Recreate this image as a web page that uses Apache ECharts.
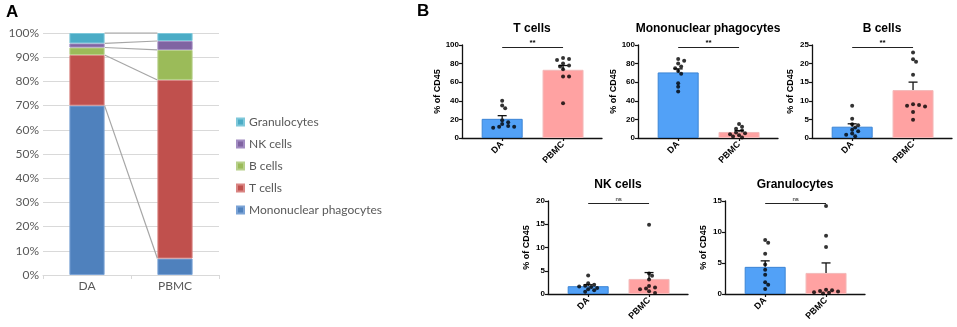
<!DOCTYPE html>
<html>
<head>
<meta charset="utf-8">
<script src="https://cdn.jsdelivr.net/npm/echarts@6/dist/echarts.min.js"></script>
<style>
  html, body { margin: 0; padding: 0; background: #fff; }
  #main { width: 957px; height: 327px; }
</style>
</head>
<body>
<div id="main"></div>
<script>
// ---- data ----
const groups = ['DA', 'PBMC']

// panel A: composition of CD45+ cells (%), bottom to top
const subsetNames = ['Mononuclear phagocytes', 'T cells', 'B cells', 'NK cells', 'Granulocytes']
const daShares = [70, 20.9, 3.1, 1.7, 4.3]
const pbmcShares = [6.8, 73.8, 12.4, 3.7, 3.3]

// panel B: per-sample % of CD45
const tCellsDA = [40, 35, 32, 19, 17, 15, 13, 12, 11, 12]
const tCellsPBMC = [86, 85, 84, 80, 78, 77, 74, 66, 66, 37.5]
const monoDA = [85, 83, 80, 77, 75, 72, 69, 59, 55, 50]
const monoPBMC = [15, 12, 10, 8, 6, 5, 4, 3, 1.5, 0.5]
const bCellsDA = [8.7, 5.2, 3.7, 3.4, 2.8, 2.2, 1.8, 1.2, 0.9, 0.5]
const bCellsPBMC = [23, 21.2, 20.5, 17, 9.1, 8.9, 8.7, 8.5, 7, 4.9]
const nkDA = [4.0, 2.3, 2.0, 1.8, 1.6, 1.5, 1.3, 1.0, 0.8, 0.5]
const nkPBMC = [14.9, 4.4, 3.9, 3.1, 1.7, 1.4, 1.2, 1.0, 0.6, 0.2]
const granDA = [8.7, 8.25, 6.5, 4.75, 3.9, 3.1, 1.9, 1.5, 0.8]
const granPBMC = [14.2, 9.4, 7.6, 0.7, 0.6, 0.5, 0.4, 0.3, 0.2, 0.1]

const panelTitles = ['T cells', 'Mononuclear phagocytes', 'B cells', 'NK cells', 'Granulocytes']
const panelMax = [100, 100, 25, 20, 15]
const panelStep = [20, 20, 5, 5, 5]
const panelSig = ['**', '**', '**', 'ns', 'ns']

// ---- styling ----
const subsetColors = ['#4F81BD', '#C0504D', '#9BBB59', '#8064A2', '#4BACC6']
const subsetEdges = ['#7BA3D6', '#D98583', '#B7D08A', '#A28CC2', '#7FC8DA']
const groupColors = ['#52A1F7', '#FFA2A2']
const groupEdges = ['#3C84D4', '#F3B9B9']
const FONT_B = '"Liberation Sans", Arial, sans-serif'
const FONT_A = 'Lato, "Open Sans", sans-serif'

// panel B boxes: left of y axis, top of plot
const boxes = [
  { left: 462, top: 45 }, { left: 638, top: 45 }, { left: 812, top: 45 },
  { left: 548, top: 201 }, { left: 725, top: 201 }
]
const PLOT_W = 140, PLOT_H = 93

function mean(a) { return a.reduce((s, v) => s + v, 0) / a.length }
function sem(a) {
  const m = mean(a)
  const sd = Math.sqrt(a.reduce((s, v) => s + (v - m) ** 2, 0) / (a.length - 1))
  return sd / Math.sqrt(a.length)
}
function cumulative(a) { let s = 0; return a.map(v => (s += v)) }

// spread overlapping dots sideways (beeswarm), pixel offsets only
function swarm(values, pxPerUnit) {
  const placed = []
  const steps = [0, 3, -3, 6, -6, 9, -9, 12, -12]
  return values.map(v => {
    const y = v * pxPerUnit
    let dx = 0
    for (const s of steps) {
      if (placed.every(p => Math.hypot(p[0] - s, p[1] - y) >= 3.6)) { dx = s; break }
    }
    placed.push([dx, y])
    return dx
  })
}

const panelData = [
  [tCellsDA, tCellsPBMC], [monoDA, monoPBMC], [bCellsDA, bCellsPBMC],
  [nkDA, nkPBMC], [granDA, granPBMC]
]

const grids = [{ left: 43, top: 33, width: 176, height: 242 }]
const xAxes = [{
  type: 'category', gridIndex: 0, data: groups,
  axisLine: { lineStyle: { color: '#D9D9D9' } },
  axisTick: { show: true, length: 4, lineStyle: { color: '#D9D9D9' } },
  axisLabel: { color: '#595959', fontSize: 12, fontFamily: FONT_A, margin: 5 }
}]
const yAxes = [{
  type: 'value', gridIndex: 0, min: 0, max: 100, interval: 10,
  axisLine: { show: false }, axisTick: { show: false },
  axisLabel: { formatter: '{value}%', color: '#595959', fontSize: 12, fontFamily: FONT_A, margin: 4 },
  splitLine: { lineStyle: { color: '#D9D9D9' } }
}]
const series = []

subsetNames.forEach((name, i) => {
  series.push({
    name, type: 'bar', stack: 'share', xAxisIndex: 0, yAxisIndex: 0,
    barWidth: '40%',
    itemStyle: { color: subsetColors[i], borderColor: subsetEdges[i], borderWidth: 1 },
    data: [daShares[i], pbmcShares[i]]
  })
})

// connector lines between segment tops
const cumDA = cumulative(daShares)
const cumPBMC = cumulative(pbmcShares)
series.push({
  type: 'custom', xAxisIndex: 0, yAxisIndex: 0, silent: true, z: 3,
  encode: { x: 0, y: [1, 2] },
  data: cumDA.map((v, i) => [0, v, cumPBMC[i]]),
  renderItem(params, api) {
    const half = api.size([1, 0])[0] * 0.2
    const a = api.coord([0, api.value(1)])
    const b = api.coord([1, api.value(2)])
    return {
      type: 'line',
      shape: { x1: a[0] + half, y1: a[1], x2: b[0] - half, y2: b[1] },
      style: { stroke: '#A6A6A6', lineWidth: 1.2 }
    }
  }
})

const graphics = [
  { type: 'text', left: 6, top: 4, style: { text: 'A', font: 'bold 17px ' + FONT_B, fill: '#000' } },
  { type: 'text', left: 417, top: 3, style: { text: 'B', font: 'bold 17px ' + FONT_B, fill: '#000' } }
]

panelData.forEach((pair, p) => {
  const gi = p + 1
  const box = boxes[p]
  const max = panelMax[p]
  grids.push({ left: box.left, top: box.top, width: PLOT_W, height: PLOT_H })
  xAxes.push({
    type: 'value', gridIndex: gi, min: -0.66, max: 1.64,
    splitLine: { show: false },
    axisLine: { onZero: false, lineStyle: { color: '#111', width: 1.3 } },
    axisTick: { customValues: [0, 1], length: 3, lineStyle: { color: '#111', width: 1.2 } },
    axisLabel: {
      customValues: [0, 1], formatter: v => groups[Math.round(v)],
      rotate: 45, margin: 5, color: '#000', fontSize: 9, fontWeight: 'bold', fontFamily: FONT_B
    }
  })
  yAxes.push({
    type: 'value', gridIndex: gi, min: 0, max, interval: panelStep[p],
    name: '% of CD45', nameLocation: 'middle', nameGap: 17,
    nameTextStyle: { fontSize: 9, fontWeight: 'bold', fontFamily: FONT_B, color: '#000' },
    splitLine: { show: false },
    axisLine: { show: true, onZero: false, lineStyle: { color: '#111', width: 1.3 } },
    axisTick: { show: true, length: 3, lineStyle: { color: '#111', width: 1.2 } },
    axisLabel: { fontSize: 8, fontWeight: 'bold', fontFamily: FONT_B, color: '#000', margin: 3 }
  })
  graphics.push({
    type: 'text', x: box.left + PLOT_W / 2, y: box.top - 16,
    style: { text: panelTitles[p], font: 'bold 12px ' + FONT_B, fill: '#000', align: 'center', verticalAlign: 'middle' }
  })

  const sigY = max * 0.975
  series.push({
    type: 'bar', xAxisIndex: gi, yAxisIndex: gi, barWidth: 41, z: 2,
    data: pair.map((vals, g) => ({
      value: [g, mean(vals)],
      itemStyle: { color: groupColors[g], borderColor: groupEdges[g], borderWidth: 1 }
    })),
    markLine: {
      silent: true, symbol: 'none', animation: false,
      lineStyle: { color: '#222', width: 1.2, type: 'solid' },
      label: {
        show: true, position: 'insideMiddleTop', distance: 1,
        formatter: panelSig[p], color: '#000',
        fontSize: panelSig[p] === 'ns' ? 6 : 8, fontWeight: panelSig[p] === 'ns' ? 'normal' : 'bold',
        fontFamily: FONT_B
      },
      data: [[{ coord: [0, sigY] }, { coord: [1, sigY] }]]
    }
  })
  series.push({
    type: 'custom', xAxisIndex: gi, yAxisIndex: gi, silent: true, z: 4,
    encode: { x: 0, y: [1, 2] },
    data: pair.map((vals, g) => [g, mean(vals), mean(vals) + sem(vals)]),
    renderItem(params, api) {
      const a = api.coord([api.value(0), api.value(1)])
      const b = api.coord([api.value(0), api.value(2)])
      const st = { stroke: '#111', lineWidth: 1.3 }
      return {
        type: 'group', children: [
          { type: 'line', shape: { x1: a[0], y1: a[1], x2: b[0], y2: b[1] }, style: st },
          { type: 'line', shape: { x1: b[0] - 4.5, y1: b[1], x2: b[0] + 4.5, y2: b[1] }, style: st }
        ]
      }
    }
  })
  pair.forEach((vals, g) => {
    const offs = swarm(vals, PLOT_H / max)
    series.push({
      type: 'scatter', xAxisIndex: gi, yAxisIndex: gi, z: 5,
      symbolSize: 4, itemStyle: { color: '#000' },
      data: vals.map((v, k) => ({ value: [g, v], symbolOffset: [offs[k], 0] }))
    })
  })
})

const chart = echarts.init(document.getElementById('main'))
chart.setOption({
  animation: false,
  backgroundColor: '#fff',
  grid: grids,
  xAxis: xAxes,
  yAxis: yAxes,
  legend: {
    data: subsetNames.slice().reverse(),
    orient: 'vertical', left: 236, top: 115, padding: 0,
    itemWidth: 7, itemHeight: 7, itemGap: 8,
    icon: 'rect',
    textStyle: { color: '#595959', fontSize: 12, fontFamily: FONT_A, lineHeight: 14 }
  },
  graphic: graphics,
  series
})
</script>
</body>
</html>
